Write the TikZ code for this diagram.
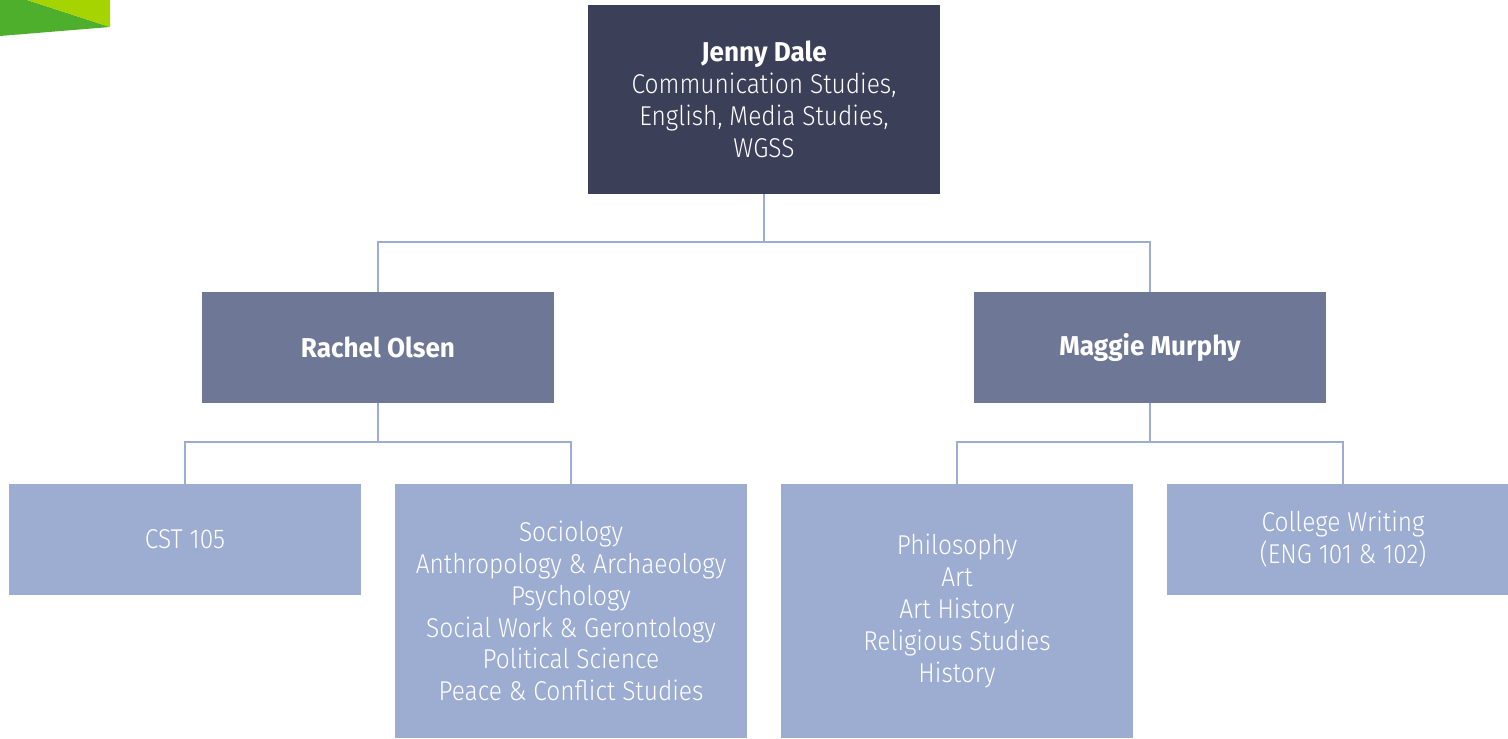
\documentclass[tikz,border=0pt]{standalone}
\usepackage{fontspec}
\IfFontExistsTF{Fira Sans Light}
  {\setmainfont{Fira Sans Light}[FakeStretch=0.9]}
  {\setmainfont{Fira Sans}[FakeStretch=0.88]}
\newfontfamily\namefont{Fira Sans}[FakeStretch=0.96]
\usetikzlibrary{positioning}
\definecolor{headBlue}{HTML}{3C3F58}
\definecolor{midBlue}{HTML}{6E7795}
\definecolor{lowBlue}{HTML}{9DACD1}
\definecolor{leafGreen}{HTML}{4DAF2C}
\definecolor{limeGreen}{HTML}{A6D400}

\begin{document}
\begin{tikzpicture}[x = 0.02cm, y = -0.02cm]
\tikzstyle{boxStyle} = [shape = rectangle, inner sep = 0pt, text = white, align = center, font = \fontsize{15.5}{18.1}\selectfont, minimum width = 7.04cm]
\tikzstyle{headStyle} = [boxStyle, fill = headBlue, minimum height = 3.78cm]
\tikzstyle{midStyle} = [boxStyle, fill = midBlue, minimum height = 2.22cm, font = \fontsize{15.5}{18.1}\namefont\bfseries]
\tikzstyle{shortStyle} = [boxStyle, fill = lowBlue, minimum height = 2.22cm]
\tikzstyle{tallStyle} = [boxStyle, fill = lowBlue, minimum height = 5.08cm]
\tikzstyle{linkStyle} = [draw = lowBlue, line width = 1.1pt]
\useasboundingbox (0,0) rectangle (1508,739);
% corner mark
\fill[leafGreen] (0,0) -- (27,0) -- (110,27) -- (0,36) -- cycle;
\fill[limeGreen] (27,0) -- (110,0) -- (110,27) -- cycle;
% boxes
\node[headStyle] (jenny) at (764,99.5) {{\namefont\bfseries Jenny Dale}\\Communication Studies,\\English, Media Studies,\\WGSS};
\node[midStyle] (rachel) at (378,347.5) {Rachel Olsen};
\node[midStyle] (maggie) at (1150,347.5) {Maggie Murphy};
\node[shortStyle] (cst) at (185,539.5) {CST 105};
\node[tallStyle] (social) at (571,611) {Sociology\\Anthropology \& Archaeology\\Psychology\\Social Work \& Gerontology\\Political Science\\Peace \& Conflict Studies};
\node[tallStyle] (humanities) at (957,611) {Philosophy\\Art\\Art History\\Religious Studies\\History};
\node[shortStyle] (writing) at (1343,539.5) {College Writing\\(ENG 101 \& 102)};
% links
\coordinate (jennyBus) at (764,242);
\coordinate (rachelBus) at (378,442);
\coordinate (maggieBus) at (1150,442);
\draw[linkStyle] (jenny.south) -- (jennyBus) -| (rachel.north);
\draw[linkStyle] (jennyBus) -| (maggie.north);
\draw[linkStyle] (rachel.south) -- (rachelBus) -| (cst.north);
\draw[linkStyle] (rachelBus) -| (social.north);
\draw[linkStyle] (maggie.south) -- (maggieBus) -| (humanities.north);
\draw[linkStyle] (maggieBus) -| (writing.north);
\end{tikzpicture}
\end{document}
